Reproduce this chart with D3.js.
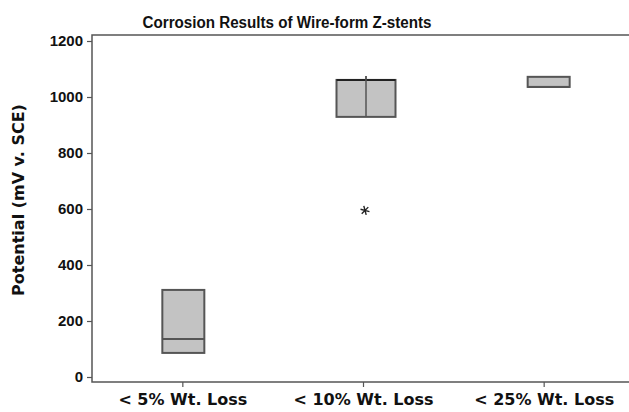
<!DOCTYPE html>
<html>
<head>
<meta charset="utf-8">
<script src="https://cdn.jsdelivr.net/npm/d3@7"></script>
<style>
  body { margin: 0; background: #fff; }
  text { font-family: "DejaVu Sans", sans-serif; font-weight: bold; fill: #111; }
</style>
</head>
<body>
<div id="chart"></div>
<script>
// data
const categories = ["< 5% Wt. Loss", "< 10% Wt. Loss", "< 25% Wt. Loss"]
const q1 = [86, 929, 1036]
const medians = [136, 1061, 1036]
const q3 = [311, 1061, 1072]
const whiskerLow = [86, 929, 1036]
const whiskerHigh = [311, 1075, 1072]
const outliers = [{ cat: "< 10% Wt. Loss", value: 595 }]
const yTicks = [0, 200, 400, 600, 800, 1000, 1200]

const W = 629, H = 412
const margin = { top: 35, right: -5, bottom: 30, left: 92 }

const svg = d3.select("#chart").append("svg")
    .attr("width", W)
    .attr("height", H)

const x = d3.scalePoint()
    .domain(categories)
    .range([margin.left, W - margin.right])
    .padding(0.5)

const y = d3.scaleLinear()
    .domain([0, 1200])
    .range([377, 41])

const bottom = H - margin.bottom

// frame (left + top + bottom)
svg.append("path")
    .attr("d", `M${W},${margin.top}H${margin.left}V${bottom}H${W}`)
    .attr("fill", "none")
    .attr("stroke", "#555")
    .attr("stroke-width", 1.5)

// y axis
const yAxis = svg.append("g")
    .attr("transform", "translate(" + margin.left + ",0)")
    .call(d3.axisLeft(y).tickValues(yTicks).tickFormat(d3.format("d")).tickSize(5).tickPadding(4))
yAxis.select(".domain").remove()
yAxis.selectAll("line").attr("stroke", "#555").attr("stroke-width", 1.2)
yAxis.selectAll("text")
    .style("font-family", "'Liberation Sans', sans-serif")
    .style("font-size", "15px").attr("fill", "#111")

// x axis
const xAxis = svg.append("g")
    .attr("transform", "translate(0," + bottom + ")")
    .call(d3.axisBottom(x).tickSize(5).tickPadding(7))
xAxis.select(".domain").remove()
xAxis.selectAll("line").attr("stroke", "#555").attr("stroke-width", 1.2)
xAxis.selectAll("text").style("font-size", "16px").attr("fill", "#111")

// title
svg.append("text")
    .attr("x", 287)
    .attr("y", 28)
    .attr("text-anchor", "middle")
    .attr("textLength", 289)
    .attr("lengthAdjust", "spacingAndGlyphs")
    .style("font-family", "'Liberation Sans', sans-serif")
    .style("font-size", "16px")
    .text("Corrosion Results of Wire-form Z-stents")

// y label
svg.append("text")
    .attr("transform", "translate(24,200) rotate(-90)")
    .attr("text-anchor", "middle")
    .style("font-size", "16px")
    .text("Potential (mV v. SCE)")

// boxes
const boxW = [42, 59, 42]
const offs = [1, 3, 5]
const stroke = "#555"

categories.forEach((c, i) => {
    const cx = x(c) + offs[i]
    const g = svg.append("g")
    // whiskers
    g.append("line")
        .attr("x1", cx).attr("x2", cx)
        .attr("y1", y(whiskerHigh[i])).attr("y2", y(q3[i]))
        .attr("stroke", stroke).attr("stroke-width", 1.5)
    g.append("line")
        .attr("x1", cx).attr("x2", cx)
        .attr("y1", y(q1[i])).attr("y2", y(whiskerLow[i]))
        .attr("stroke", stroke).attr("stroke-width", 1.5)
    g.append("rect")
        .attr("x", cx - boxW[i] / 2)
        .attr("width", boxW[i])
        .attr("y", y(q3[i]))
        .attr("height", y(q1[i]) - y(q3[i]))
        .attr("fill", "#c3c3c3")
        .attr("stroke", stroke)
        .attr("stroke-width", 2)
    g.append("line")
        .attr("x1", cx - boxW[i] / 2).attr("x2", cx + boxW[i] / 2)
        .attr("y1", y(medians[i])).attr("y2", y(medians[i]))
        .attr("stroke", i == 1 ? "#222" : stroke).attr("stroke-width", 2)
})

// the vertical line through the middle box
const c2 = x(categories[1]) + offs[1]
svg.append("line")
    .attr("x1", c2).attr("x2", c2)
    .attr("y1", y(whiskerHigh[1])).attr("y2", y(q1[1]))
    .attr("stroke", stroke).attr("stroke-width", 1.5)

// outliers as asterisks
svg.selectAll(".outlier")
    .data(outliers)
    .enter()
    .append("path")
    .attr("class", "outlier")
    .attr("transform", d => "translate(" + (x(d.cat) + 2) + "," + y(d.value) + ") rotate(45)")
    .attr("d", d3.symbol(d3.symbolAsterisk, 60))
    .attr("stroke", "#222")
    .attr("stroke-width", 1.4)
</script>
</body>
</html>
